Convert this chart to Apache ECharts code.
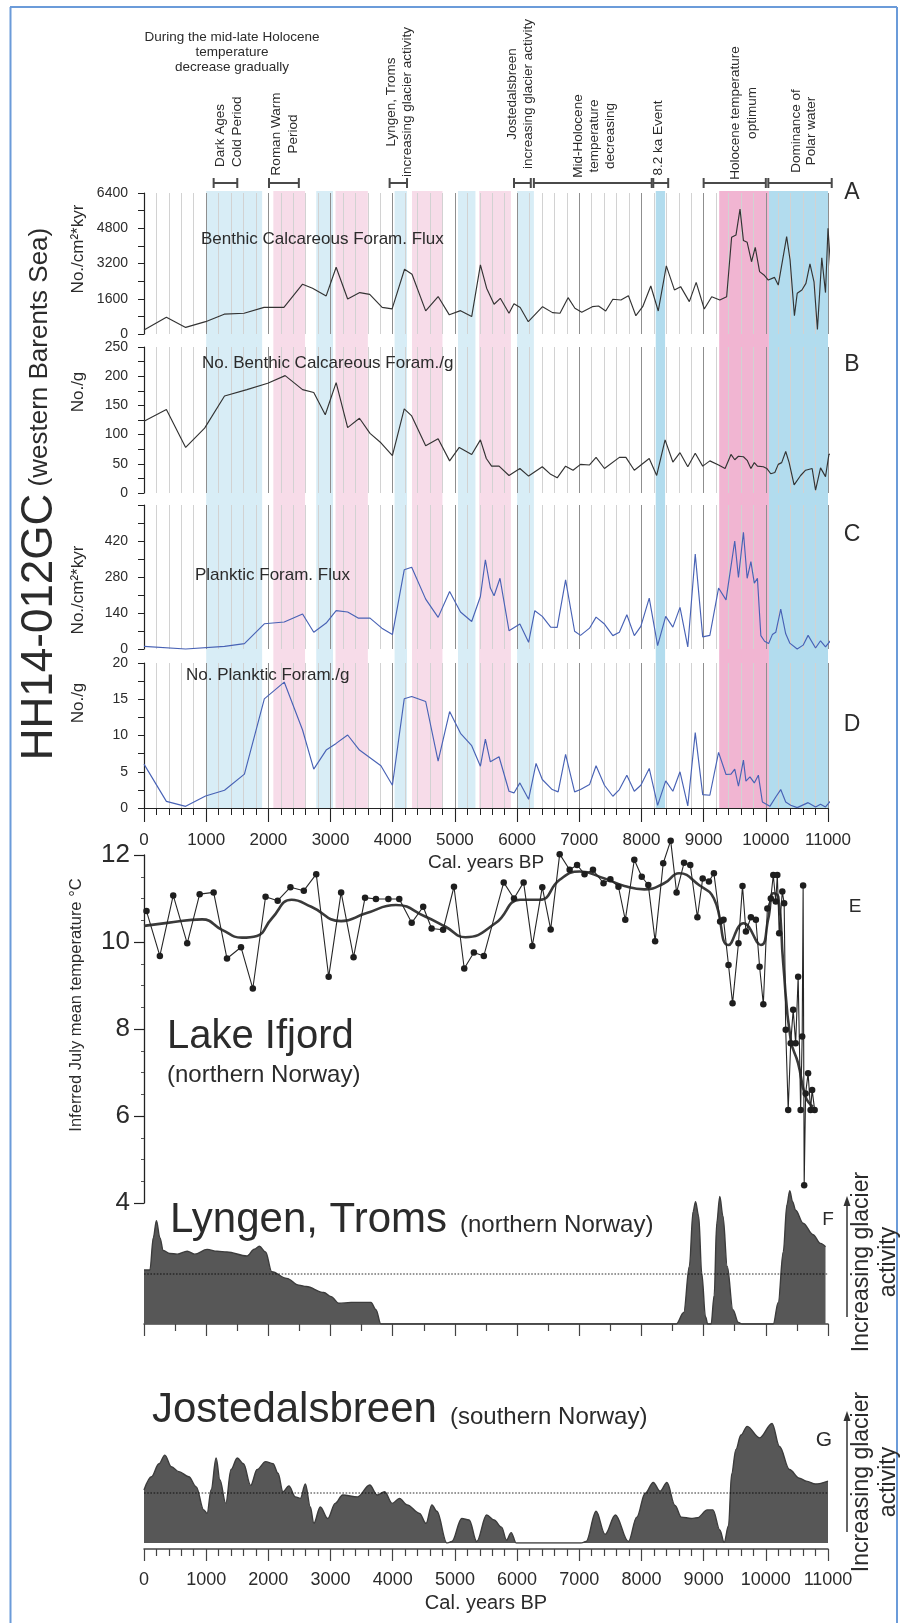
<!DOCTYPE html>
<html>
<head>
<meta charset="utf-8">
<script src="https://cdn.jsdelivr.net/npm/echarts@6/dist/echarts.min.js"></script>
<style>
html,body{margin:0;padding:0;background:#fff;}
#chart{width:907px;height:1623px;}
</style>
</head>
<body>
<div id="chart"></div>
<script>
// ---------------- data (cal. years BP, value) ----------------
// A: benthic calcareous foraminifera flux (No./cm²*kyr)
const benthicFlux = [[0,180],[360,760],[670,300],[990,560],[1290,900],[1610,940],[1930,1210],[2250,1210],[2550,2260],[2710,2080],[2930,1730],[3090,3030],[3275,1590],[3470,1880],[3630,1800],[3830,1210],[3990,1140],[4190,2940],[4310,2710],[4530,1050],[4730,1700],[4910,870],[5090,1060],[5270,790],[5410,3140],[5510,2080],[5630,1350],[5730,1620],[5870,940],[5950,1370],[6050,1200],[6180,560],[6410,1240],[6570,970],[6690,940],[6820,1650],[6930,1170],[7040,985],[7210,1240],[7310,1270],[7425,1045],[7540,1575],[7670,1545],[7790,1740],[7910,830],[8020,1240],[8150,2180],[8270,1045],[8400,3090],[8530,2000],[8630,2150],[8770,1470],[8880,2345],[9010,1135],[9130,1690],[9260,1545],[9370,1690],[9450,4390],[9520,4490],[9585,5670],[9640,4240],[9700,4160],[9770,3280],[9830,3930],[9900,2830],[9970,2680],[10040,2450],[10070,2370],[10140,2570],[10200,2220],[10335,4420],[10390,3360],[10460,830],[10505,1850],[10580,2000],[10645,2300],[10710,3180],[10775,2370],[10830,210],[10900,3460],[10960,1880],[11000,4800],[11060,2300]];
// B: benthic calcareous foraminifera per gram (No./g)
const benthicPerGram = [[0,123],[360,143],[670,78],[975,111],[1295,166],[1655,177],[1990,188],[2270,201],[2550,177],[2730,172],[2915,134],[3090,189],[3275,112],[3465,128],[3635,102],[3810,86],[3995,64],[4185,144],[4305,132],[4530,81],[4730,93],[4915,55],[5070,78],[5270,66],[5410,91],[5505,59],[5590,46],[5710,46],[5870,30],[6045,42],[6185,29],[6405,45],[6540,32],[6645,26],[6780,46],[6900,39],[7020,49],[7165,48],[7270,61],[7405,42],[7645,61],[7750,61],[7885,39],[8125,59],[8245,30],[8380,91],[8505,53],[8620,69],[8745,45],[8865,68],[8985,46],[9100,55],[9240,48],[9345,42],[9440,66],[9500,57],[9560,63],[9640,62],[9700,56],[9760,42],[9815,52],[9865,46],[9960,45],[10015,42],[10080,33],[10145,35],[10200,49],[10255,52],[10320,71],[10375,52],[10455,14],[10560,30],[10640,39],[10745,42],[10800,5],[10880,43],[10960,28],[11015,66],[11060,68]];
// C: planktic foraminifera flux (No./cm²*kyr)
const planktFlux = [[0,10],[670,0],[1295,10],[1615,21],[1935,98],[2255,105],[2550,136],[2730,65],[2930,101],[3090,149],[3275,144],[3450,120],[3635,120],[3825,81],[3995,56],[4185,308],[4305,318],[4530,194],[4730,123],[4915,224],[5090,144],[5270,107],[5410,204],[5490,347],[5570,237],[5630,207],[5725,275],[5870,71],[6045,97],[6185,26],[6285,149],[6405,127],[6540,85],[6645,84],[6780,269],[6925,69],[7020,53],[7165,81],[7270,124],[7405,97],[7540,52],[7645,65],[7765,133],[7885,52],[7990,88],[8125,198],[8260,13],[8390,127],[8505,85],[8620,162],[8745,8],[8865,369],[8985,47],[9100,53],[9240,237],[9360,191],[9500,420],[9560,278],[9640,454],[9700,275],[9760,340],[9815,256],[9865,275],[9920,52],[9980,30],[10045,21],[10105,56],[10160,65],[10240,155],[10320,59],[10385,23],[10505,0],[10600,15],[10680,53],[10800,4],[10880,32],[10960,8],[11060,39]];
// D: planktic foraminifera per gram (No./g)
const planktPerGram = [[0,6.05],[360,0.92],[670,0.23],[990,1.66],[1295,2.45],[1615,4.67],[1935,15.06],[2255,17.37],[2550,10.76],[2730,5.36],[2930,7.99],[3090,8.91],[3275,10.07],[3465,7.99],[3810,5.82],[3995,3.14],[4185,15.06],[4305,15.38],[4530,14.69],[4730,6.47],[4915,13.3],[5090,10.3],[5270,8.59],[5410,5.77],[5490,9.51],[5570,6.37],[5710,7.07],[5870,2.31],[5950,2.08],[6045,3.46],[6185,1.2],[6305,6.14],[6405,3.93],[6565,2.54],[6660,2.22],[6780,7.39],[6925,2.22],[7020,2.54],[7165,3.23],[7270,5.82],[7405,3.14],[7540,1.62],[7645,2.54],[7765,4.53],[7885,2.31],[7990,3.14],[8125,5.45],[8260,0.37],[8390,3.74],[8505,2.31],[8620,4.99],[8745,0.28],[8865,10.39],[8985,1.85],[9100,1.76],[9240,7.67],[9360,4.62],[9440,4.67],[9500,5.36],[9560,3.0],[9640,6.61],[9680,3.7],[9745,4.3],[9815,3.46],[9880,4.53],[9945,0.83],[10065,0.23],[10160,1.52],[10240,2.54],[10320,0.83],[10400,0.37],[10505,0.05],[10680,0.74],[10800,0.14],[10880,0.51],[10960,0.14],[11060,1.15]];
// E: Lake Ifjord inferred July mean temperature (°C), individual samples
const ifjordTemp = [[40,10.71],[255,9.68],[470,11.07],[695,9.97],[895,11.1],[1120,11.14],[1335,9.62],[1560,9.88],[1750,8.93],[1955,11.04],[2150,10.95],[2355,11.26],[2570,11.18],[2770,11.56],[2970,9.2],[3170,11.14],[3370,9.65],[3555,11.02],[3730,10.99],[3930,10.99],[4105,10.99],[4305,10.44],[4490,10.81],[4625,10.31],[4810,10.28],[4985,11.27],[5150,9.39],[5305,9.76],[5465,9.68],[5785,11.37],[5950,11.0],[6105,11.37],[6245,9.91],[6405,11.26],[6540,10.29],[6685,12.02],[6845,11.66],[6965,11.77],[7085,11.56],[7220,11.66],[7390,11.35],[7500,11.44],[7630,11.27],[7740,10.51],[7885,11.89],[8005,11.5],[8110,11.31],[8220,10.02],[8350,11.81],[8470,12.33],[8565,11.14],[8685,11.82],[8785,11.77],[8900,10.57],[8985,11.46],[9085,11.39],[9165,11.58],[9265,10.47],[9320,10.51],[9400,9.47],[9465,8.59],[9560,9.97],[9625,11.29],[9680,10.24],[9760,10.57],[9840,10.51],[9900,9.43],[9960,8.57],[10025,10.77],[10080,11.0],[10120,11.54],[10160,10.93],[10185,11.54],[10215,10.2],[10265,11.16],[10295,10.89],[10320,7.98],[10360,6.14],[10400,7.67],[10440,8.44],[10480,7.67],[10520,9.2],[10560,6.14],[10585,7.83],[10600,11.3],[10617,4.41],[10640,6.52],[10680,6.98],[10720,6.14],[10745,6.6],[10785,6.14]];
// E: smoothed temperature trend (°C)
const ifjordTrend = [[0,10.37],[375,10.44],[935,10.52],[1255,10.28],[1575,10.1],[1815,10.14],[2055,10.54],[2375,10.97],[2690,10.81],[3170,10.48],[3570,10.66],[4050,10.85],[4530,10.58],[4850,10.35],[5170,10.11],[5650,10.43],[6050,10.97],[6365,10.97],[6685,11.43],[7005,11.62],[7405,11.46],[7725,11.29],[8045,11.21],[8365,11.35],[8605,11.58],[8925,11.31],[9165,11.0],[9400,9.93],[9640,10.43],[9920,9.93],[10040,10.54],[10120,11.12],[10200,11.04],[10280,9.51],[10400,7.75],[10520,7.21],[10640,6.44],[10760,6.21]];
// F: Lyngen, Troms glacier activity (relative)
const lyngenGlacier = [[0,3.75],[95,3.75],[150,6.0],[200,7.18],[255,6.0],[310,5.1],[415,4.9],[535,4.85],[695,5.05],[815,4.85],[1015,5.18],[1175,5.05],[1335,5.0],[1655,4.72],[1775,5.2],[1855,5.4],[1955,5.0],[2055,3.63],[2295,3.17],[2490,2.7],[2610,2.6],[2890,2.19],[3010,1.9],[3130,1.44],[3330,1.5],[3490,1.5],[3650,1.5],[3730,1.0],[3810,0],[6000,0],[8560,0],[8680,0.8],[8770,4],[8830,7.8],[8870,8.5],[8920,7.5],[8970,3.5],[9030,0.5],[9066,0],[9120,0],[9170,2],[9210,7],[9260,8.85],[9310,7.5],[9380,4],[9470,1],[9560,0.1],[9620,0],[10120,0],[10200,1.5],[10280,5],[10340,8.3],[10385,9.26],[10430,8.5],[10480,7.9],[10600,7.0],[10760,6.2],[10880,5.6],[10960,5.37]];
// G: Jostedalsbreen glacier activity (relative)
const jostedalGlacier = [[0,3.68],[120,4.6],[240,5.5],[335,6.1],[440,5.3],[560,4.96],[720,4.6],[840,3.9],[960,2.3],[1015,2.06],[1080,3.7],[1160,5.9],[1220,4.4],[1315,2.75],[1400,5.1],[1500,5.9],[1600,5.5],[1715,4.0],[1820,5.1],[1955,5.65],[2075,5.5],[2155,4.84],[2235,3.56],[2330,3.97],[2435,3.2],[2515,3.1],[2595,4.1],[2675,2.5],[2730,1.36],[2835,2.5],[2955,1.7],[3075,2.75],[3195,3.33],[3435,3.2],[3630,4.03],[3750,3.33],[3870,3.56],[3990,2.75],[4110,3.1],[4230,2.65],[4430,2.06],[4535,1.36],[4630,2.65],[4710,2.2],[4870,0],[4950,0.1],[5110,1.7],[5230,1.6],[5350,0.1],[5510,1.94],[5630,1.6],[5750,1.1],[5830,0.2],[5905,0.72],[5985,0],[6500,0],[7025,0],[7110,0.1],[7270,2.2],[7415,0.6],[7580,1.94],[7790,0.1],[7925,1.8],[8060,3.45],[8190,4.2],[8300,3.6],[8410,4.2],[8540,2.6],[8640,1.8],[8800,1.7],[8900,1.75],[9060,2.3],[9150,2.3],[9260,0.9],[9330,0.05],[9400,1.2],[9450,4.8],[9520,6.5],[9600,7.5],[9700,8.1],[9900,7.3],[10100,8.3],[10220,6.7],[10380,5.1],[10540,4.5],[10650,4.3],[10800,4.1],[11000,4.3]];
// Reference level drawn across the glacier panels
const glacierThreshold = 3.5;

// Climate intervals shaded behind panels A-D
const coldIntervals = [[1000,1900],[2770,3040],[4030,4230],[5050,5330],[6000,6270]];
const warmIntervals = [[2080,2590],[3080,3600],[4310,4800],[5390,5900]];
const strongColdIntervals = [[8230,8380],[10050,11000]];
const strongWarmIntervals = [[9250,10050]];
// Time spans of the annotated periods at the top
const periodBrackets = [[1120,1500],[2010,2490],[3950,4230],[5950,6220],[6270,8165],[8190,8430],[9000,10000],[10040,11060]];

// ---------------- chart ----------------
const FONT = "'Liberation Sans', Arial, Helvetica, sans-serif";
const INK = '#2b2b2b';
const GL = 144, GW = 684;

const gridBoxes = [
  {top:191, height:617},   // 0 shaded intervals behind A-D
  {top:178, height:10},    // 1 period brackets
  {top:193, height:141},   // 2 A
  {top:347, height:146},   // 3 B
  {top:505, height:144},   // 4 C
  {top:663, height:145},   // 5 D
  {top:855, height:348},   // 6 E
  {top:1180, height:144},  // 7 F
  {top:1399, height:144}   // 8 G
];

const plain = v => String(v);
const hidden = {show:false};
function baseX(i, extra) {
  return Object.assign({gridIndex:i, type:'value', min:0, max:11000, interval:1000,
    axisLine:hidden, axisTick:hidden, axisLabel:hidden, splitLine:hidden}, extra || {});
}
function panelX(i, withAxis) {
  return baseX(i, {
    z: 1,
    axisLine: {show: withAxis, onZero:false, lineStyle:{color:'#222', width:1.2}},
    axisTick: {show: withAxis, length:14, lineStyle:{color:'#222', width:1.1}},
    minorTick: {show: withAxis, splitNumber:5, length:7, lineStyle:{color:'#222', width:1}},
    axisLabel: {show: withAxis, fontSize:17, color:INK, fontFamily:FONT, margin:24, formatter:plain},
    splitLine: {show:true, lineStyle:{color:'#8f8f8f', width:1}},
    minorSplitLine: {show:true, lineStyle:{color:'#d2d2d2', width:1}}
  });
}
function panelY(i, max, interval, hideTop) {
  return {gridIndex:i, type:'value', min:0, max:max, interval:interval, z:1,
    axisLine:{show:true, lineStyle:{color:'#222', width:1.2}},
    axisTick:{show:true, length:6, lineStyle:{color:'#222'}},
    minorTick:{show:true, splitNumber:2, length:6, lineStyle:{color:'#222'}},
    axisLabel:{fontSize:14, color:INK, fontFamily:FONT, margin:16,
      formatter: v => (hideTop && v === max) ? '' : String(v)},
    splitLine:hidden};
}

const xAxes = [
  baseX(0), baseX(1),
  panelX(2,false), panelX(3,false), panelX(4,false), panelX(5,true),
  baseX(6, {show:false}),
  baseX(7, {axisLine:{show:true, onZero:false, lineStyle:{color:'#444', width:1.5}},
    axisTick:{show:true, length:12, lineStyle:{color:'#444', width:1.2}},
    minorTick:{show:true, splitNumber:2, length:7, lineStyle:{color:'#444', width:1.2}}}),
  baseX(8, {offset:6, axisLine:{show:true, onZero:false, lineStyle:{color:'#444', width:1.5}},
    axisTick:{show:true, length:12, lineStyle:{color:'#444', width:1.2}},
    minorTick:{show:true, splitNumber:5, length:7, lineStyle:{color:'#444', width:1.2}},
    axisLabel:{show:true, fontSize:18, color:INK, fontFamily:FONT, margin:22, formatter:plain}})
];
const yAxes = [
  {gridIndex:0, min:0, max:1, show:false},
  {gridIndex:1, min:0, max:1, show:false},
  panelY(2, 6400, 1600, false),
  panelY(3, 250, 50, false),
  panelY(4, 560, 140, true),
  panelY(5, 20, 5, false),
  {gridIndex:6, type:'value', min:4, max:12, interval:2, z:1,
    axisLine:{show:true, lineStyle:{color:'#222', width:1.3}},
    axisTick:{show:true, length:10, lineStyle:{color:'#222', width:1.2}},
    minorTick:{show:true, splitNumber:4, length:3, lineStyle:{color:'#555'}},
    axisLabel:{fontSize:26, color:INK, fontFamily:FONT, margin:14},
    splitLine:hidden},
  {gridIndex:7, min:0, max:10, show:false},
  {gridIndex:8, min:0, max:10, show:false}
];

const bandColors = ['#d8edf6', '#f7dce9', '#b2dcee', '#f1b5d2'];
const bandData = [].concat(
  coldIntervals.map(d => [d[0], d[1], 0]),
  warmIntervals.map(d => [d[0], d[1], 1]),
  strongColdIntervals.map(d => [d[0], d[1], 2]),
  strongWarmIntervals.map(d => [d[0], d[1], 3])
);

function lineSeries(idx, data, color) {
  return {type:'line', xAxisIndex:idx, yAxisIndex:idx, data:data, symbol:'none', z:4, clip:false,
    lineStyle:{color:color, width:1.15}};
}
function glacierSeries(idx, data) {
  return {type:'line', xAxisIndex:idx, yAxisIndex:idx, data:data, symbol:'none', smooth:0.35,
    smoothMonotone:'x', z:3,
    lineStyle:{color:'#3c3c3c', width:1.4},
    areaStyle:{color:'#575757', opacity:1},
    markLine:{symbol:'none', silent:true, label:{show:false},
      lineStyle:{type:'dotted', color:'rgba(0,0,0,0.55)', width:1.6},
      data:[{yAxis: glacierThreshold}]}};
}

const series = [
  {type:'custom', xAxisIndex:0, yAxisIndex:0, z:0, silent:true, data:bandData,
    encode:{x:[0,1]},
    renderItem: function (params, api) {
      const p0 = api.coord([api.value(0), 1]);
      const p1 = api.coord([api.value(1), 0]);
      return {type:'rect', shape:{x:p0[0], y:p0[1], width:p1[0]-p0[0], height:p1[1]-p0[1]},
        style:{fill: bandColors[api.value(2)]}};
    }},
  {type:'custom', xAxisIndex:1, yAxisIndex:1, z:3, silent:true, clip:false, data:periodBrackets,
    encode:{x:[0,1]},
    renderItem: function (params, api) {
      const a = api.coord([api.value(0), 0.5]);
      const b = api.coord([api.value(1), 0.5]);
      const t = api.coord([api.value(0), 1])[1];
      const u = api.coord([api.value(0), 0])[1];
      const st = {stroke:'#4a4a4a', lineWidth:2};
      return {type:'group', children:[
        {type:'line', shape:{x1:a[0], y1:a[1], x2:b[0], y2:b[1]}, style:st},
        {type:'line', shape:{x1:a[0], y1:t, x2:a[0], y2:u}, style:st},
        {type:'line', shape:{x1:b[0], y1:t, x2:b[0], y2:u}, style:st}
      ]};
    }},
  lineSeries(2, benthicFlux, '#333333'),
  lineSeries(3, benthicPerGram, '#333333'),
  lineSeries(4, planktFlux, '#4862b5'),
  lineSeries(5, planktPerGram, '#4862b5'),
  {type:'line', xAxisIndex:6, yAxisIndex:6, data:ifjordTrend, symbol:'none', smooth:0.5, z:3, clip:false,
    lineStyle:{color:'#3a3a3a', width:2.6}},
  {type:'line', xAxisIndex:6, yAxisIndex:6, data:ifjordTemp, symbol:'circle', symbolSize:6.5, z:4, clip:false,
    itemStyle:{color:'#1e1e1e'}, lineStyle:{color:'#262626', width:1.1}},
  glacierSeries(7, lyngenGlacier),
  glacierSeries(8, jostedalGlacier)
];

// ---------------- text and decoration ----------------
function label(x, y, text, size, style, el) {
  return Object.assign({type:'text', x:x, y:y, silent:true, z:10,
    style:Object.assign({text:text, fontSize:size, fontFamily:FONT, fill:INK,
      align:'left', verticalAlign:'middle'}, style || {})}, el || {});
}
function upText(x, y, text, size, style) {
  return label(x, y, text, size, Object.assign({align:'center'}, style || {}), {rotation:Math.PI/2});
}

const graphics = [
  // frame
  {type:'line', shape:{x1:10.5, y1:7, x2:10.5, y2:1623}, style:{stroke:'#6b9bd9', lineWidth:2}, silent:true},
  {type:'line', shape:{x1:10, y1:7, x2:897, y2:7}, style:{stroke:'#6b9bd9', lineWidth:2}, silent:true},
  {type:'line', shape:{x1:897, y1:7, x2:897, y2:1623}, style:{stroke:'#6b9bd9', lineWidth:2}, silent:true},

  // core title
  label(62, 494, '{a|HH14-012GC}{b| (western Barents Sea)}', 44,
    {align:'center', verticalAlign:'bottom',
     rich:{a:{fontSize:44, fontFamily:FONT, fill:INK}, b:{fontSize:26, fontFamily:FONT, fill:INK}}},
    {rotation:Math.PI/2}),

  // period annotations
  label(232, 52, 'During the mid-late Holocene\ntemperature\ndecrease gradually', 13.5,
    {align:'center', lineHeight:15}),
  label(229, 167, 'Dark Ages\nCold Period', 13.5, {align:'left', lineHeight:17}, {rotation:Math.PI/2}),
  upText(285, 134, 'Roman Warm\nPeriod', 13.5, {lineHeight:16.5}),
  upText(399, 102, 'Lyngen, Troms\nincreasing glacier activity', 13.5, {lineHeight:16}),
  upText(520, 94, 'Jostedalsbreen\nincreasing glacier activity', 13.5, {lineHeight:16}),
  upText(594, 136, 'Mid-Holocene\ntemperature\ndecreasing', 13.5, {lineHeight:16}),
  upText(658, 138, '8.2 ka Event', 13.5),
  upText(744, 113, 'Holocene temperature\noptimum', 13.5, {lineHeight:17}),
  upText(804, 131, 'Dominance of\nPolar water', 13.5, {lineHeight:15}),

  // panel captions
  label(201, 239, 'Benthic Calcareous Foram. Flux', 17),
  label(202, 363, 'No. Benthic Calcareous Foram./g', 17),
  label(195, 575, 'Planktic Foram. Flux', 17),
  label(186, 675, 'No. Planktic Foram./g', 17),

  // axis names
  upText(78, 249, 'No./cm²*kyr', 17),
  upText(78, 392, 'No./g', 17),
  upText(78, 590, 'No./cm²*kyr', 17),
  upText(78, 703, 'No./g', 17),
  upText(76, 1005, 'Inferred July mean temperature °C', 16.5),
  label(486, 863, 'Cal. years BP', 19, {align:'center'}),
  label(486, 1603, 'Cal. years BP', 20, {align:'center'}),

  // panel letters
  label(852, 193, 'A', 23, {align:'center'}),
  label(852, 365, 'B', 23, {align:'center'}),
  label(852, 535, 'C', 23, {align:'center'}),
  label(852, 725, 'D', 23, {align:'center'}),
  label(855, 907, 'E', 19, {align:'center'}),
  label(828, 1220, 'F', 19, {align:'center'}),
  label(824, 1440, 'G', 21, {align:'center'}),

  // site names
  label(167, 1037, 'Lake Ifjord', 40),
  label(167, 1075, '(northern Norway)', 24),
  label(170, 1220, 'Lyngen, Troms', 42),
  label(460, 1225, '(northern Norway)', 24),
  label(152, 1410, 'Jostedalsbreen', 42),
  label(450, 1417, '(southern Norway)', 24),

  // glacier activity direction
  upText(875, 1262, 'Increasing glacier\nactivity', 23, {lineHeight:27}),
  upText(875, 1482, 'Increasing glacier\nactivity', 23, {lineHeight:27}),
  {type:'line', shape:{x1:847, y1:1317, x2:847, y2:1202}, style:{stroke:'#333', lineWidth:1.5}, silent:true},
  {type:'polygon', shape:{points:[[847,1196],[843.5,1206],[850.5,1206]]}, style:{fill:'#333'}, silent:true},
  {type:'line', shape:{x1:847, y1:1532, x2:847, y2:1417}, style:{stroke:'#333', lineWidth:1.5}, silent:true},
  {type:'polygon', shape:{points:[[847,1411],[843.5,1421],[850.5,1421]]}, style:{fill:'#333'}, silent:true}
];

const chart = echarts.init(document.getElementById('chart'), null, {renderer:'canvas'});
chart.setOption({
  animation:false,
  backgroundColor:'#ffffff',
  grid: gridBoxes.map(g => ({left:GL, width:GW, top:g.top, height:g.height, containLabel:false})),
  xAxis: xAxes,
  yAxis: yAxes,
  series: series,
  graphic: {elements: graphics}
});
</script>
</body>
</html>
